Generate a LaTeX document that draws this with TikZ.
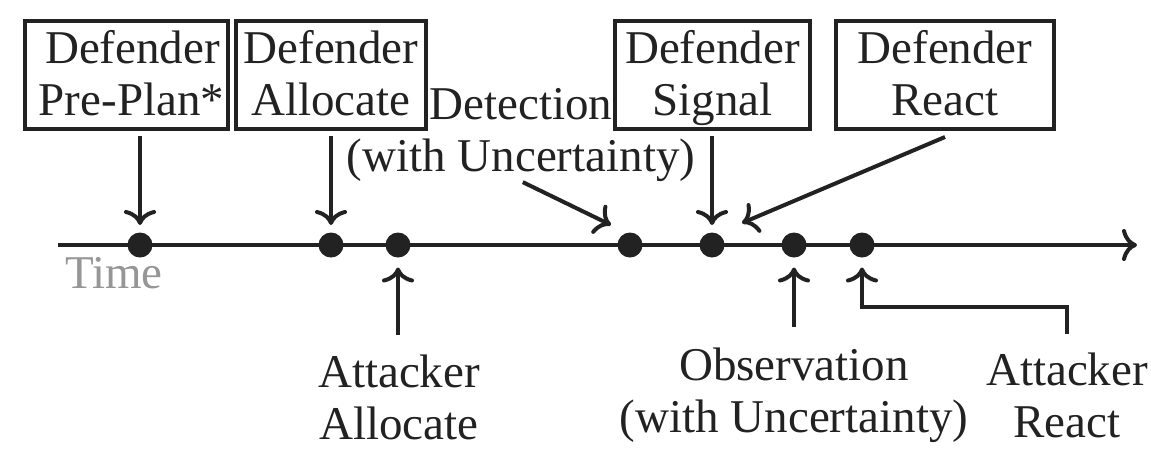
\documentclass[tikz,border=0pt]{standalone}
\usepackage{fontspec}
\setmainfont{Liberation Serif}
\usetikzlibrary{arrows.meta}
\definecolor{ink}{RGB}{34,34,34}
\definecolor{timegray}{RGB}{150,150,150}
\newcommand{\boxtext}[3]{\parbox[c][108pt][t]{#1}{\centering\rule{0pt}{42pt}#2\\#3}}
\begin{document}
\begin{tikzpicture}[x=1pt,y=-1pt,
  every node/.style={font=\fontsize{47}{52}\selectfont, text=ink, inner sep=0pt, outer sep=0pt},
  dbox/.style={draw=ink, line width=4pt},
  lbl/.style={align=center, anchor=north},
  dot/.style={circle, fill=ink, minimum size=25pt},
  arr/.style={draw=ink, line width=4pt, -{Computer Modern Rightarrow[length=15pt,width=32pt]}}]
\useasboundingbox (0,0) rectangle (1151,451);
% timeline
\coordinate (tl0) at (58,245);
\coordinate (tl1) at (1137,245);
\draw[arr] (tl0) -- (tl1);
\node[dot] (d1) at (140,245) {};
\node[dot] (d2) at (331,245) {};
\node[dot] (d3) at (398,245) {};
\node[dot] (d4) at (630,245) {};
\node[dot] (d5) at (712,245) {};
\node[dot] (d6) at (794,245) {};
\node[dot] (d7) at (862,245) {};
\node[anchor=base west, text=timegray] (time) at (65,288) {Time};
% defender boxes
\node[dbox] (pp) at (126.5,75) {\boxtext{203pt}{\hspace*{12pt}Defender}{\hspace*{10pt}Pre-Plan*}};
\node[dbox] (da) at (331,75) {\boxtext{190pt}{Defender}{Allocate}};
\node[dbox] (ds) at (712.5,75) {\boxtext{195pt}{Defender}{Signal}};
\node[dbox] (dr) at (945,75) {\boxtext{218pt}{Defender}{React}};
% labels
\node[lbl] (det) at (521,88) {Detection\\(with Uncertainty)};
\node[lbl] (aa) at (399,355) {Attacker\\Allocate};
\node[lbl] (obs) at (794,348) {Observation\\(with Uncertainty)};
\node[lbl] (ar) at (1067,353) {Attacker\\React};
\coordinate (detto) at (611,225);
\coordinate (drto) at (742,223);
\coordinate (arcorner) at (862,307);
% connectors
\draw[arr, shorten <=7pt, shorten >=7.5pt] (d1 |- pp.south) -- (d1.north);
\draw[arr, shorten <=7pt, shorten >=7.5pt] (d2 |- da.south) -- (d2.north);
\draw[arr, shorten <=7pt, shorten >=7.5pt] (d5 |- ds.south) -- (d5.north);
\draw[arr] ([yshift=-8pt]dr.south) -- (drto);
\draw[arr, shorten <=2pt] (det.south) -- (detto);
\draw[arr, shorten <=20pt, shorten >=10pt] (aa.north -| d3) -- (d3.south);
\draw[arr, shorten <=21pt, shorten >=10pt] (obs.north -| d6) -- (d6.south);
\draw[arr, shorten <=19pt, shorten >=10pt] (ar.north) |- (arcorner) -- (d7.south);
\end{tikzpicture}
\end{document}
